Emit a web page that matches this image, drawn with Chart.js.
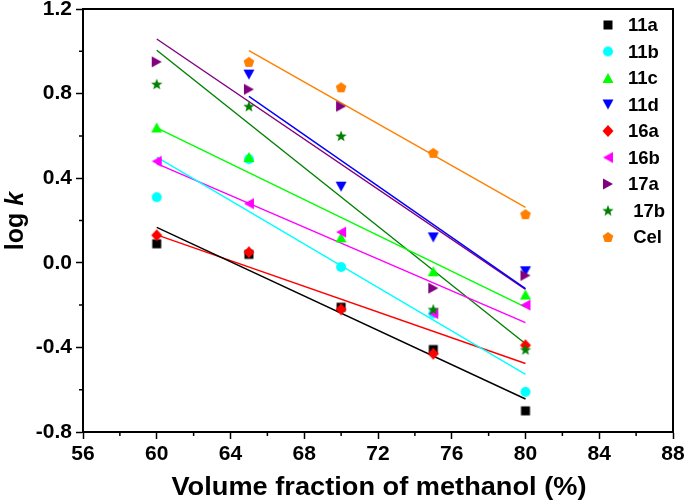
<!DOCTYPE html>
<html>
<head>
<meta charset="utf-8">
<script src="https://cdn.jsdelivr.net/npm/chart.js@4.4.0/dist/chart.umd.min.js"></script>
<style>
  body { margin: 0; background: #fff; }
  #wrap { width: 685px; height: 501px; }
</style>
</head>
<body>
<div id="wrap"><canvas id="chart" width="685" height="501"></canvas></div>
<script>
// data
const seriesNames = ['11a', '11b', '11c', '11d', '16a', '16b', '17a', ' 17b', ' Cel'];
const xFull = [60, 65, 70, 75, 80];
const xShort = [65, 70, 75, 80];
const v11a = [0.09, 0.04, -0.21, -0.41, -0.70];
const v11b = [0.31, 0.49, -0.02, -0.24, -0.61];
const v11c = [0.64, 0.50, 0.12, -0.04, -0.15];
const v11d = [0.89, 0.36, 0.12, -0.04];
const v16a = [0.13, 0.05, -0.22, -0.43, -0.39];
const v16b = [0.48, 0.28, 0.145, -0.24, -0.20];
const v17a = [0.95, 0.82, 0.74, -0.12, -0.06];
const v17b = [0.845, 0.74, 0.60, -0.22, -0.41];
const vCel = [0.95, 0.83, 0.52, 0.23];
const xTicks = [56, 60, 64, 68, 72, 76, 80, 84, 88];
const yTicks = [-0.8, -0.4, 0.0, 0.4, 0.8, 1.2];

const seriesX = [xFull, xFull, xFull, xShort, xFull, xFull, xFull, xFull, xShort];
const seriesY = [v11a, v11b, v11c, v11d, v16a, v16b, v17a, v17b, vCel];
const colors = ['#000000', '#00FFFF', '#00FF00', '#0000FF', '#FF0000', '#FF00FF', '#800080', '#008000', '#FF8000'];
const shapes = ['square', 'circle', 'up', 'down', 'diamond', 'left', 'right', 'star', 'pentagon'];

const FONT = '"Liberation Sans", Arial, sans-serif';

function marker(shape, color) {
  const s = 16;
  const c = document.createElement('canvas');
  c.width = s; c.height = s;
  const g = c.getContext('2d');
  g.fillStyle = color;
  g.translate(s / 2, s / 2);
  g.beginPath();
  let pts = null;
  if (shape === 'square') g.rect(-4.5, -4.5, 9, 9);
  else if (shape === 'circle') g.arc(0, 0, 5, 0, Math.PI * 2);
  else if (shape === 'up') pts = [[0, -5], [5.5, 5], [-5.5, 5]];
  else if (shape === 'down') pts = [[0, 5], [5.5, -5], [-5.5, -5]];
  else if (shape === 'left') pts = [[-5, 0], [5, -5.5], [5, 5.5]];
  else if (shape === 'right') pts = [[5, 0], [-5, -5.5], [-5, 5.5]];
  else if (shape === 'diamond') pts = [[0, -6], [5.5, 0], [0, 6], [-5.5, 0]];
  else if (shape === 'star') {
    pts = [];
    for (let i = 0; i < 10; i++) {
      const r = i % 2 ? 2.5 : 6;
      const a = -Math.PI / 2 + i * Math.PI / 5;
      pts.push([r * Math.cos(a), r * Math.sin(a) + 0.5]);
    }
  } else if (shape === 'pentagon') {
    pts = [];
    for (let i = 0; i < 5; i++) {
      const a = -Math.PI / 2 + i * 2 * Math.PI / 5;
      pts.push([5.6 * Math.cos(a), 5.6 * Math.sin(a) + 0.5]);
    }
  }
  if (pts) {
    g.moveTo(pts[0][0], pts[0][1]);
    pts.slice(1).forEach(p => g.lineTo(p[0], p[1]));
    g.closePath();
  }
  g.fill();
  return c;
}

function fit(xs, ys) {
  const n = xs.length;
  const mx = xs.reduce((a, b) => a + b, 0) / n;
  const my = ys.reduce((a, b) => a + b, 0) / n;
  let sxy = 0, sxx = 0;
  for (let i = 0; i < n; i++) {
    sxy += (xs[i] - mx) * (ys[i] - my);
    sxx += (xs[i] - mx) * (xs[i] - mx);
  }
  const k = sxy / sxx;
  return [xs[0], xs[n - 1]].map(x => ({ x: x, y: my + k * (x - mx) }));
}

const markers = shapes.map((s, i) => marker(s, colors[i]));
const datasets = [];
seriesY.forEach((ys, i) => {
  datasets.push({
    label: seriesNames[i] + ' fit',
    data: fit(seriesX[i], ys),
    showLine: true,
    borderColor: colors[i],
    borderWidth: 1.4,
    pointRadius: 0,
    order: 100
  });
});
seriesY.forEach((ys, i) => {
  datasets.push({
    label: seriesNames[i],
    data: ys.map((y, j) => ({ x: seriesX[i][j], y: y })),
    pointStyle: markers[i],
    pointRadius: 6,
    backgroundColor: colors[i],
    order: 50 - i
  });
});

const decor = {
  id: 'decor',
  afterDraw(chart) {
    const ctx = chart.ctx;
    const a = chart.chartArea;
    const xs = chart.scales.x, ys = chart.scales.y;
    ctx.save();
    ctx.strokeStyle = '#000';
    ctx.lineWidth = 2;
    ctx.strokeRect(a.left, a.top, a.right - a.left, a.bottom - a.top);
    // minor ticks
    ctx.lineWidth = 1.5;
    ctx.beginPath();
    for (let v = 58; v < 88; v += 4) {
      const px = xs.getPixelForValue(v);
      ctx.moveTo(px, a.bottom);
      ctx.lineTo(px, a.bottom + 4);
    }
    for (let v = -0.6; v < 1.2; v += 0.4) {
      const py = ys.getPixelForValue(v);
      ctx.moveTo(a.left, py);
      ctx.lineTo(a.left - 4, py);
    }
    ctx.stroke();
    ctx.restore();

    // x title, stretched a little like the original
    ctx.save();
    ctx.fillStyle = '#000';
    ctx.font = 'bold 25px ' + FONT;
    ctx.textAlign = 'center';
    ctx.textBaseline = 'alphabetic';
    const title = 'Volume fraction of methanol (%)';
    const sx = 415 / ctx.measureText(title).width;
    ctx.translate(379, 495);
    ctx.scale(sx, 1);
    ctx.fillText(title, 0, 0);
    ctx.restore();

    // y title with italic k
    ctx.save();
    ctx.fillStyle = '#000';
    ctx.translate(15, 221);
    ctx.rotate(-Math.PI / 2);
    ctx.textAlign = 'left';
    ctx.font = 'bold 25px ' + FONT;
    const w1 = ctx.measureText('log ').width;
    ctx.font = 'italic bold 25px ' + FONT;
    const w2 = ctx.measureText('k').width;
    ctx.font = 'bold 25px ' + FONT;
    ctx.fillText('log ', -(w1 + w2) / 2, 8);
    ctx.font = 'italic bold 25px ' + FONT;
    ctx.fillText('k', -(w1 + w2) / 2 + w1, 8);
    ctx.restore();

    // legend
    ctx.save();
    ctx.font = 'bold 18.5px ' + FONT;
    ctx.textBaseline = 'middle';
    ctx.fillStyle = '#000';
    seriesNames.forEach((name, i) => {
      const y = 25 + i * 26.5;
      const m = markers[i];
      ctx.drawImage(m, 608 - m.width / 2, y - m.height / 2);
      ctx.fillText(name, 628, y + 1);
    });
    ctx.restore();
  }
};

new Chart(document.getElementById('chart'), {
  type: 'scatter',
  data: { datasets: datasets },
  options: {
    responsive: false,
    animation: false,
    devicePixelRatio: 1,
    events: [],
    layout: { padding: { top: 9, right: 12, left: 0, bottom: 0 } },
    plugins: { legend: { display: false }, tooltip: { enabled: false } },
    scales: {
      x: {
        type: 'linear',
        min: 56, max: 88,
        afterBuildTicks: s => { s.ticks = xTicks.map(v => ({ value: v })); },
        afterFit: s => { s.height = 69; s.paddingLeft = 0; s.paddingRight = 0; },
        border: { display: true, color: '#000', width: 2 },
        grid: { drawOnChartArea: false, drawTicks: true, tickLength: 7, tickWidth: 1.5, tickColor: '#000' },
        ticks: { color: '#000', padding: 3, maxRotation: 0, font: { family: FONT, size: 21, weight: 'bold' } }
      },
      y: {
        min: -0.8, max: 1.2,
        afterBuildTicks: s => { s.ticks = yTicks.map(v => ({ value: v })); },
        afterFit: s => { s.width = 83; s.paddingTop = 0; s.paddingBottom = 0; },
        border: { display: true, color: '#000', width: 2 },
        grid: { drawOnChartArea: false, drawTicks: true, tickLength: 7, tickWidth: 1.5, tickColor: '#000' },
        ticks: { color: '#000', padding: 4, font: { family: FONT, size: 21, weight: 'bold' },
          callback: v => Number(v).toFixed(1) }
      }
    }
  },
  plugins: [decor]
});
</script>
</body>
</html>
